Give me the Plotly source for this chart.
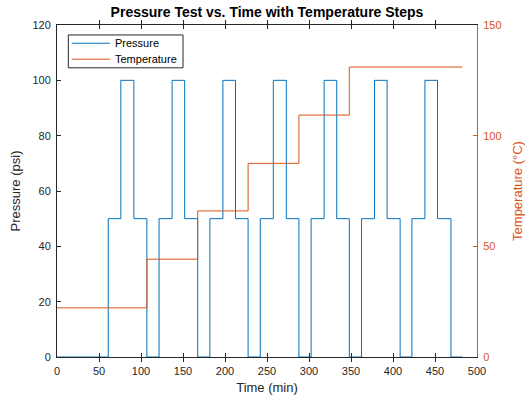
import plotly.graph_objects as go

# Pressure step breakpoints (time in min, value in psi) — step "hold" after each time
p_time = [0, 61, 76, 91.5, 107, 121.5, 137, 152, 167.5, 182, 197.5, 212.5, 227.5,
          242, 257.5, 273, 288, 302.5, 318, 333, 348, 362.5, 378, 393, 408.5,
          422.5, 438, 453, 469, 482.5]
p_val = [0, 50, 100, 50, 0, 50, 100, 50, 0, 50, 100, 50, 0,
         50, 100, 50, 0, 50, 100, 50, 0, 50, 100, 50, 0,
         50, 100, 50, 0, 0]

# Temperature steps (time in min, value in °C)
t_time = [0, 107, 167.5, 227.5, 288, 348, 482.5]
t_val = [22.2, 44.2, 66, 87.5, 109.3, 131, 131]

x_ticks = [0, 50, 100, 150, 200, 250, 300, 350, 400, 450, 500]
y_ticks = [0, 20, 40, 60, 80, 100, 120]
y2_ticks = [0, 50, 100, 150]

series_names = ["Pressure", "Temperature"]

BLUE = "#0072BD"
ORANGE = "#D95319"
DARK = "#262626"
FONT = "Liberation Sans, Arial, sans-serif"

fig = go.Figure()
fig.add_trace(go.Scatter(x=p_time, y=p_val, mode="lines", line_shape="hv",
                         line=dict(color=BLUE, width=1), name=series_names[0]))
fig.add_trace(go.Scatter(x=t_time, y=t_val, mode="lines", line_shape="hv",
                         line=dict(color=ORANGE, width=1), name=series_names[1],
                         yaxis="y2"))

# Compact MATLAB-style legend (paper coords relative to plot area)
fig.add_shape(type="rect", xref="paper", yref="paper", x0=0.027, x1=0.300,
              y0=0.871, y1=0.970, line=dict(color=DARK, width=1),
              fillcolor="white", layer="above")
for name, color, yy in [(series_names[0], BLUE, 0.945), (series_names[1], ORANGE, 0.897)]:
    fig.add_shape(type="line", xref="paper", yref="paper", x0=0.035, x1=0.126,
                  y0=yy, y1=yy, line=dict(color=color, width=1), layer="above")
    fig.add_annotation(xref="paper", yref="paper", x=0.133, y=yy, text=name,
                       showarrow=False, xanchor="left", yanchor="middle",
                       font=dict(size=11, color="#000000"))

fig.update_layout(
    width=527, height=399,
    margin=dict(l=57, r=50, t=25, b=42),
    paper_bgcolor="white", plot_bgcolor="white",
    font=dict(family=FONT, size=11, color=DARK),
    showlegend=False,
    title=dict(text="<b>Pressure Test vs. Time with Temperature Steps</b>",
               x=(57 + 477) / 2 / 527, xanchor="center", y=0.97, yanchor="middle",
               font=dict(size=14, color="#000000")),
    xaxis=dict(range=[0, 500], tickvals=x_ticks, showgrid=False, zeroline=False,
               showline=True, linecolor=DARK, linewidth=1, mirror="allticks",
               ticks="inside", ticklen=4, tickcolor=DARK, ticklabelstandoff=4,
               automargin=False,
               title=dict(text="Time (min)", font=dict(size=13), standoff=6),
               tickfont=dict(size=11, color=DARK)),
    yaxis=dict(range=[0, 120], tickvals=y_ticks, showgrid=False, zeroline=False,
               showline=True, linecolor=DARK, linewidth=1,
               ticks="inside", ticklen=4, tickcolor=DARK, ticklabelstandoff=3,
               automargin=False,
               title=dict(text="Pressure (psi)", font=dict(size=13), standoff=8),
               tickfont=dict(size=11, color=DARK)),
    yaxis2=dict(range=[0, 150], tickvals=y2_ticks, overlaying="y", side="right",
                showgrid=False, zeroline=False, showline=True, linecolor=ORANGE,
                linewidth=1, ticks="inside", ticklen=4, tickcolor=ORANGE,
                ticklabelstandoff=3, automargin=False,
                title=dict(text="Temperature (°C)", font=dict(size=13, color=ORANGE),
                           standoff=12),
                tickfont=dict(size=11, color=ORANGE)),
)

fig.write_html("out.html")
